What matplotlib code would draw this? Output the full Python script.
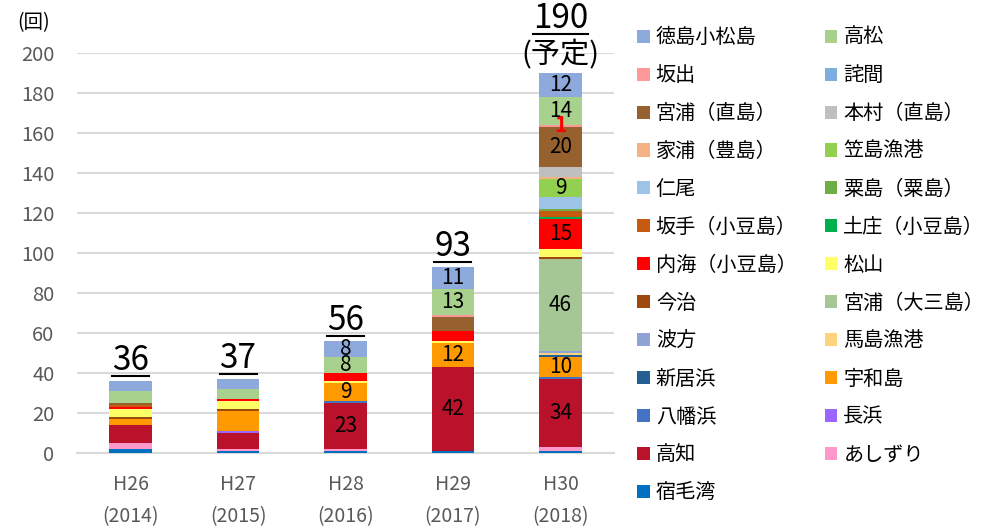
import numpy as np
import matplotlib
matplotlib.use("Agg")
import matplotlib.pyplot as plt
from matplotlib.patches import Patch
from matplotlib.lines import Line2D

plt.rcParams['font.family'] = ['Noto Sans CJK JP', 'DejaVu Sans']

# categories
years = ["H26\n(2014)", "H27\n(2015)", "H28\n(2016)", "H29\n(2017)", "H30\n(2018)"]
totals = [36, 37, 56, 93, 190]

# series, stacking order bottom -> top
names = ["宿毛湾", "あしずり", "高知", "長浜", "八幡浜", "宇和島", "新居浜", "馬島漁港",
         "波方", "宮浦（大三島）", "今治", "松山", "内海（小豆島）", "土庄（小豆島）",
         "坂手（小豆島）", "粟島（粟島）", "仁尾", "笠島漁港", "家浦（豊島）", "本村（直島）",
         "宮浦（直島）", "詫間", "坂出", "高松", "徳島小松島"]
colors = ["#0070C0", "#FF99CC", "#BA122B", "#9966FF", "#4472C4", "#FF9900", "#255E91",
          "#FFD280", "#8FA4D6", "#A5C795", "#9E480E", "#FFFF66", "#FF0000", "#00B050",
          "#C55A11", "#70AD47", "#9DC3E6", "#92D050", "#F4B183", "#BFBFBF",
          "#97612F", "#7DAEE0", "#FF9999", "#A9D18E", "#8EA9DB"]

# counts per year, same order as names
h26 = [2, 3, 9, 0, 0, 3, 0, 0, 0, 0, 1, 4, 1, 0, 1, 0, 0, 0, 0, 0, 1, 0, 0, 6, 5]
h27 = [1, 1, 8, 1, 0, 10, 0, 0, 0, 0, 1, 4, 1, 0, 0, 0, 0, 0, 0, 0, 0, 0, 0, 5, 5]
h28 = [1, 1, 23, 0, 1, 9, 0, 0, 0, 0, 0, 1, 4, 0, 0, 0, 0, 0, 0, 0, 0, 0, 0, 8, 8]
h29 = [1, 0, 42, 0, 0, 12, 0, 0, 0, 0, 0, 1, 5, 0, 0, 0, 0, 0, 0, 0, 7, 0, 1, 13, 11]
h30 = [1, 2, 34, 0, 1, 10, 1, 1, 1, 46, 1, 4, 15, 1, 3, 1, 6, 9, 1, 5, 20, 0, 1, 14, 12]

label_min = 8           # segments labelled from this size on (H28 onwards)
label_from = 2
red_label = ("坂出", 4)  # the small red "1"

data = np.array([h26, h27, h28, h29, h30], dtype=float).T
x = np.arange(len(years))

fig = plt.figure(figsize=(9.88, 5.26), dpi=100)
ax = fig.add_axes([0.0777, 0.1394, 0.544, 0.760])

bottom = np.zeros(len(years))
for i, name in enumerate(names):
    vals = data[i]
    ax.bar(x, vals, width=0.395, bottom=bottom, color=colors[i], linewidth=0, zorder=3)
    for j in range(len(years)):
        if j >= label_from and vals[j] >= label_min:
            ax.text(x[j], bottom[j] + vals[j] / 2, f"{int(vals[j])}", ha='center', va='center',
                    fontsize=15, color='black', zorder=4)
    bottom += vals

# red label for 坂出
ri = names.index(red_label[0])
rj = red_label[1]
rb = data[:ri, rj].sum()
ax.text(x[rj], rb + data[ri, rj] / 2, f"{int(data[ri, rj])}", ha='center', va='center',
        fontsize=15, color='red', fontweight='bold', zorder=5)

# totals above bars
tot_texts = []
for j, t in enumerate(totals):
    if j == len(totals) - 1:
        tt = ax.text(x[j], t + 22.5, str(t), ha='center', va='baseline', fontsize=24, clip_on=False)
        ax.text(x[j], t + 9.0, "(予定)", ha='center', va='center', fontsize=21, clip_on=False)
    else:
        tt = ax.text(x[j], t + 5.5, str(t), ha='center', va='baseline', fontsize=24, clip_on=False)
    tot_texts.append(tt)

ax.set_ylim(0, 200)
ax.set_xlim(-0.5, len(years) - 0.5)
ax.set_yticks(np.arange(0, 201, 20))
ax.set_xticks(x)
ax.set_xticklabels(years, linespacing=1.7)
ax.tick_params(axis='y', length=0, pad=16, labelsize=14.5, labelcolor='#595959')
ax.tick_params(axis='x', length=0, pad=15, labelsize=14, labelcolor='#595959')
ax.grid(axis='y', color='#D9D9D9', linewidth=1.5, zorder=0)
ax.set_axisbelow(True)
for s in ['top', 'right', 'left']:
    ax.spines[s].set_visible(False)
ax.spines['bottom'].set_color('#D9D9D9')
ax.spines['bottom'].set_linewidth(1.5)

fig.text(0.017, 0.957, "(回)", fontsize=14, ha='left', va='center')

# legend, filled row by row like the original
handles = [Patch(facecolor=c) for c in colors][::-1]
labels = names[::-1]
order = list(range(0, len(labels), 2)) + list(range(1, len(labels), 2))
fig.legend([handles[k] for k in order], [labels[k] for k in order], ncol=2,
           loc='upper left', bbox_to_anchor=(0.645, 0.948), frameon=False,
           fontsize=14.5, handlelength=0.62, handleheight=0.62, handletextpad=0.3,
           columnspacing=1.4, labelspacing=0.84, borderpad=0, borderaxespad=0)

# underline the totals
fig.canvas.draw()
r = fig.canvas.get_renderer()
inv = fig.transFigure.inverted()
for tt in tot_texts:
    bb = tt.get_window_extent(renderer=r)
    (x0, y0), (x1, y1) = inv.transform([[bb.x0, bb.y0 + 2], [bb.x1, bb.y0 + 2]])
    fig.add_artist(Line2D([x0, x1], [y0, y1], color='black', linewidth=1.5))

fig.savefig("out.png", dpi=100)
